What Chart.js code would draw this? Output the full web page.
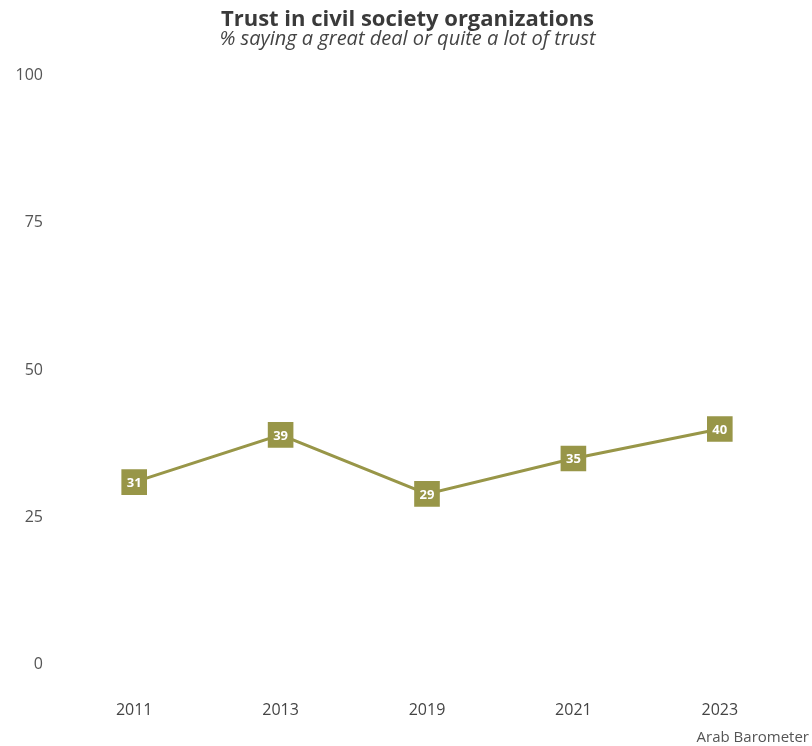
<!DOCTYPE html>
<html>
<head>
<meta charset="utf-8">
<script src="https://cdn.jsdelivr.net/npm/chart.js@4"></script>
<style>
  body { margin: 0; background: #fff; }
  #wrap { width: 812px; height: 746px; position: relative; }
</style>
</head>
<body>
<div id="wrap"><canvas id="myChart"></canvas></div>
<script>
"use strict";

const years = ['2011', '2013', '2019', '2021', '2023'];
const trust = [31, 39, 29, 35, 40];
const yTicks = [0, 25, 50, 75, 100];

const olive = '#989648';
const fontName = "'Open Sans', sans-serif";

// labels inside the square markers + source caption
const labelPlugin = {
    id: 'labels',
    afterDatasetsDraw(chart) {
        const ctx = chart.ctx;
        const meta = chart.getDatasetMeta(0);
        ctx.save();
        ctx.fillStyle = '#fff';
        ctx.font = "bold 13px " + fontName;
        ctx.textAlign = 'center';
        ctx.textBaseline = 'middle';
        meta.data.forEach((pt, i) => {
            ctx.fillText(String(trust[i]), pt.x, pt.y + 1);
        });
        ctx.fillStyle = '#555';
        ctx.font = "15px " + fontName;
        ctx.textAlign = 'right';
        ctx.textBaseline = 'alphabetic';
        ctx.fillText('Arab Barometer', chart.width - 3, chart.height - 4);
        ctx.restore();
    }
};

new Chart(document.getElementById("myChart"), {
    type: 'line',
    data: {
        labels: years,
        datasets: [{
            data: trust,
            borderColor: olive,
            backgroundColor: olive,
            borderWidth: 3,
            pointStyle: 'rect',
            pointRadius: 16,
            pointHoverRadius: 16,
            tension: 0
        }]
    },
    options: {
        responsive: true,
        maintainAspectRatio: false,
        animation: false,
        layout: { padding: { left: 9, right: 6, top: 0, bottom: -10 } },
        plugins: {
            legend: { display: false },
            tooltip: { enabled: false },
            title: {
                display: true,
                text: 'Trust in civil society organizations',
                color: '#3a3a3a',
                font: { family: fontName, size: 22, weight: 'bold' },
                padding: { top: 7, bottom: 0 }
            },
            subtitle: {
                display: true,
                text: '% saying a great deal or quite a lot of trust',
                color: '#444',
                font: { family: fontName, size: 20, style: 'italic' },
                padding: { top: -6, bottom: 24 }
            }
        },
        scales: {
            x: {
                offset: true,
                grid: { display: false, drawTicks: false },
                border: { display: false },
                ticks: { color: '#444', font: { family: fontName, size: 16 }, padding: 36 }
            },
            y: {
                min: 0,
                max: 100,
                afterBuildTicks(axis) {
                    axis.ticks = yTicks.map(v => ({ value: v }));
                },
                afterFit(axis) {
                    axis.width = 52;
                },
                grid: { display: false, drawTicks: false },
                border: { display: false },
                ticks: { color: '#555', font: { family: fontName, size: 16 }, padding: 18 }
            }
        }
    },
    plugins: [labelPlugin]
});
</script>
</body>
</html>
